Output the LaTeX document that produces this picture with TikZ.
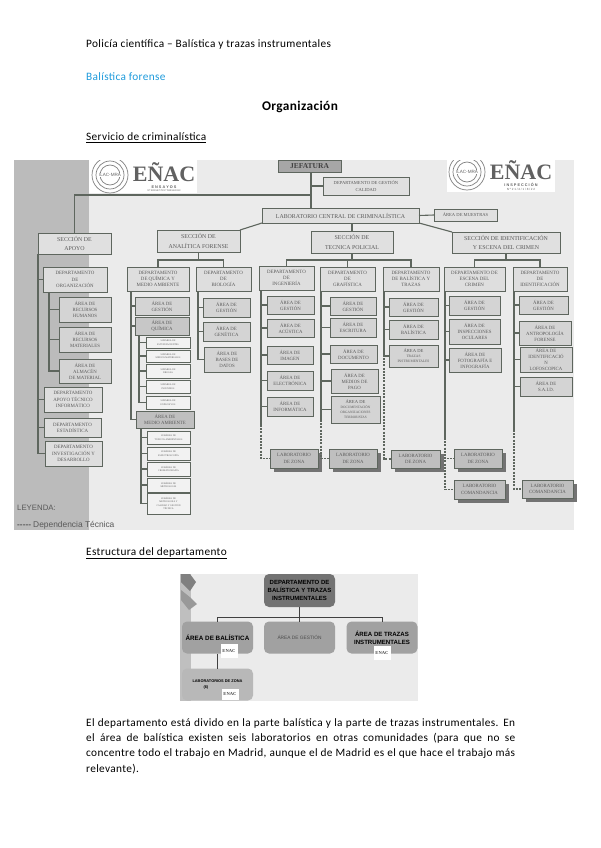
\documentclass[tikz,border=0pt]{standalone}
\usepackage{fontspec}
\setmainfont[LetterSpace=3]{Carlito}
\newfontfamily\orgfont{Liberation Serif}
\newfontfamily\legfont{Liberation Sans}
\usetikzlibrary{positioning, shadows}
\definecolor{orgline}{HTML}{5E665E}
\definecolor{orgtext}{HTML}{5A5A5A}
\definecolor{sheet}{HTML}{EBEBEB}
\definecolor{panel}{HTML}{BBBBBB}
\definecolor{bluehead}{HTML}{1E9BDC}

\begin{document}
\begin{tikzpicture}[x=1pt, y=-1pt,
  wh/.style 2 args={minimum width=#1, minimum height=#2},
  orgbox/.style={rectangle, draw=orgline, line width=1pt, inner sep=0pt, outer sep=0pt, align=center, text=orgtext},
  secbox/.style={orgbox, fill=black!12, font=\orgfont\fontsize{5.9}{9.5}\selectfont},
  deptbox/.style={orgbox, fill=black!13, font=\orgfont\fontsize{4.9}{6.2}\selectfont},
  areabox/.style={orgbox, fill=black!17, font=\orgfont\fontsize{4.8}{6}\selectfont},
  subbox/.style={orgbox, fill=black!5, font=\orgfont\fontsize{2.4}{3.1}\selectfont},
  labbox/.style={orgbox, fill=black!25, font=\orgfont\fontsize{4.8}{6.2}\selectfont, drop shadow={shadow xshift=4pt, shadow yshift=-4pt, fill=black!55, opacity=1}},
  link/.style={draw=orgline, line width=1.1pt},
  deplink/.style={draw=orgline, line width=1.1pt, dash pattern=on 2pt off 1.2pt},
  pagetext/.style={inner sep=0pt, anchor=west, font=\fontsize{11.3}{13}\selectfont},
  stepbox/.style={rectangle, rounded corners=5pt, inner sep=0pt, outer sep=0pt, align=center, wh={71}{32}},
  busline/.style={draw=black!75, line width=.9pt},
  logobig/.style={inner sep=0pt, text=black!62, font=\orgfont\bfseries\fontsize{22}{22}\selectfont},
  logosmall/.style={inner sep=0pt, text=black!62, font=\legfont\fontsize{4.2}{5}\selectfont},
  minilogo/.style={fill=white, inner sep=0pt, font=\orgfont\bfseries\fontsize{4.6}{5}\selectfont, text=black!70, wh={17}{14}}]
\useasboundingbox (0,0) rectangle (600,848);
\fill[white] (0,0) rectangle (600,848);

\node[pagetext] (titulo) at (86,44) {Policía científica – Balística y trazas instrumentales};
\node[pagetext, text=bluehead] (balistica) at (86,77) {Balística forense};
\node[pagetext, anchor=center, font=\bfseries\fontsize{13.3}{15}\selectfont] (organizacion) at (300,107) {Organización};
\node[pagetext] (servicio) at (86,138) {\underline{Servicio de criminalística}};
\node[pagetext] (estructura) at (86,553) {\underline{Estructura del departamento}};

\fill[sheet] (14,160) rectangle (574,530);
\fill[panel] (14,160) rectangle (89,530);
\begin{scope}
\clip (14,160) rectangle (574,530);
\fill[white] (89,160) rectangle (197,193);
\fill[white] (447,160) rectangle (555,192);
\foreach \r in {18,14,10} {
  \draw[black!50, line width=.7pt] (110,175) circle[radius=\r];
  \draw[black!50, line width=.7pt] (467,172) circle[radius=\r];
}
\node[fill=white, inner sep=.6pt, text=black!60, font=\legfont\fontsize{4.6}{5}\selectfont] (ilacizq) at (110,175) {ILAC-MRA};
\node[fill=white, inner sep=.6pt, text=black!60, font=\legfont\fontsize{4.6}{5}\selectfont] (ilacder) at (467,172) {ILAC-MRA};
\end{scope}
\node[logobig] (enacizq) at (164,172) {EÑAC};
\node[logosmall, font=\legfont\bfseries\fontsize{3.8}{4}\selectfont] (ensayos) at (164,187) {E N S A Y O S};
\node[logosmall, font=\legfont\fontsize{2.5}{3}\selectfont] (ensayosnum) at (164,191) {Nº 583/LE778  Nº 583/LE1193};
\node[logobig] (enacder) at (521,170) {EÑAC};
\node[logosmall, font=\legfont\bfseries\fontsize{3.8}{4}\selectfont] (inspeccion) at (521,185) {I N S P E C C I Ó N};
\node[logosmall, font=\legfont\fontsize{3}{3}\selectfont] (inspnum) at (521,189.5) {N º 2 1 / 4 / 1 / 8 / 2 2};

\node[secbox, wh={63}{12}, fill=black!35, font=\orgfont\bfseries\fontsize{7.5}{8}\selectfont, text=black!75] (jefatura) at (309.5,166) {JEFATURA};
\node[secbox, wh={86}{18}, font=\orgfont\fontsize{4.6}{6.2}\selectfont] (calidad) at (366,186) {DEPARTAMENTO DE GESTIÓN\\CALIDAD};
\node[secbox, wh={157}{15}] (labcentral) at (340.5,215.5) {LABORATORIO CENTRAL DE CRIMINALÍSTICA};
\node[secbox, wh={63}{12}, font=\orgfont\fontsize{4.6}{6}\selectfont] (muestras) at (465.5,215) {ÁREA DE MUESTRAS};
\node[secbox, wh={73}{21}] (apoyo) at (74.5,243.5) {SECCIÓN DE\\APOYO};
\node[secbox, wh={83}{22}] (analitica) at (198.5,241) {SECCIÓN DE\\ANALÍTICA FORENSE};
\node[secbox, wh={82}{22}] (tecnica) at (352,242) {SECCIÓN DE\\TECNICA POLICIAL};
\node[secbox, wh={108}{21}] (identcrimen) at (506,242.5) {SECCIÓN DE IDENTIFICACIÓN\\Y ESCENA DEL CRIMEN};

\node[deptbox, wh={64}{25}] (deptorg) at (75,279.5) {DEPARTAMENTO\\DE\\ORGANIZACIÓN};
\node[deptbox, wh={62}{24}] (deptquimica) at (158,279) {DEPARTAMENTO\\DE QUÍMICA Y\\MEDIO AMBIENTE};
\node[deptbox, wh={55}{24}] (deptbiologia) at (223.5,279) {DEPARTAMENTO\\DE\\BIOLOGÍA};
\node[deptbox, wh={55}{24}] (deptingenieria) at (286.5,278) {DEPARTAMENTO\\DE\\INGENIERÍA};
\node[deptbox, wh={55}{24}] (deptgrafistica) at (347.5,279) {DEPARTAMENTO\\DE\\GRAFÍSTICA};
\node[deptbox, wh={56}{24}] (deptbalistica) at (411,279) {DEPARTAMENTO\\DE BALÍSTICA Y\\TRAZAS};
\node[deptbox, wh={61}{24}] (deptescena) at (474.5,279) {DEPARTAMENTO DE\\ESCENA DEL\\CRIMEN};
\node[deptbox, wh={54}{24}] (deptident) at (540,279) {DEPARTAMENTO\\DE\\IDENTIFICACIÓN};

\node[areabox, wh={52}{25}] (arearh) at (85,309.5) {ÁREA DE\\RECURSOS\\HUMANOS};
\node[areabox, wh={52}{25}] (arearm) at (85,339.5) {ÁREA DE\\RECURSOS\\MATERIALES};
\node[areabox, wh={52}{24}] (areaalmacen) at (85,371) {ÁREA DE\\ALMACÉN\\DE MATERIAL};
\node[deptbox, wh={58}{25}] (deptapoyo) at (73,399.5) {DEPARTAMENTO\\APOYO TÉCNICO\\INFORMÁTICO};
\node[deptbox, wh={57}{19}] (deptestad) at (72.5,427.5) {DEPARTAMENTO\\ESTADÍSTICA};
\node[deptbox, wh={57}{25}] (deptinvest) at (73.5,453.5) {DEPARTAMENTO\\INVESTIGACIÓN Y\\DESARROLLO};

\node[areabox, wh={54}{18}] (qgestion) at (162,306) {ÁREA DE\\GESTIÓN};
\node[areabox, wh={54}{18}, fill=black!22] (qquimica) at (162,326) {ÁREA DE\\QUÍMICA};
\node[subbox, wh={44}{11}] (sube) at (168,342.5) {SUBÁREA DE\\ESTUPEFACIENTES};
\node[subbox, wh={44}{12}] (subm) at (168,356) {SUBÁREA DE\\MEDIOS MATERIALES};
\node[subbox, wh={44}{14}] (subd) at (168,371) {SUBÁREA DE\\DROGAS};
\node[subbox, wh={44}{13}] (subi) at (168,386.5) {SUBÁREA DE\\INCENDIOS};
\node[subbox, wh={44}{13}] (subx) at (168,402.5) {SUBÁREA DE\\EXPLOSIVOS};
\node[areabox, wh={58}{17}, fill=black!25] (qambiente) at (165,419.5) {ÁREA DE\\MEDIO AMBIENTE};
\node[subbox, wh={43}{13}] (subt) at (168.5,437.5) {SUBÁREA DE\\TÓXICOS AMBIENTALES};
\node[subbox, wh={43}{13}] (subs) at (168.5,453.5) {SUBÁREA DE\\ESPECTROSCOPÍA};
\node[subbox, wh={43}{14}] (subc) at (168.5,469) {SUBÁREA DE\\CROMATOGRAFÍA};
\node[subbox, wh={43}{14}] (subr) at (168.5,485) {SUBÁREA DE\\METROLOGÍA};
\node[subbox, wh={43}{21}] (subg) at (168.5,503.5) {SUBÁREA DE\\METROLOGÍA Y\\CALIDAD Y GESTIÓN\\TÉCNICA};

\node[areabox, wh={47}{19}] (bgestion) at (226.5,307.5) {ÁREA DE\\GESTIÓN};
\node[areabox, wh={47}{19}] (bgenetica) at (226.5,331.5) {ÁREA DE\\GENÉTICA};
\node[areabox, wh={46}{25}] (bdatos) at (227,359.5) {ÁREA DE\\BASES DE\\DATOS};

\node[areabox, wh={47}{18}] (igestion) at (290.5,305) {ÁREA DE\\GESTIÓN};
\node[areabox, wh={47}{18}] (iacustica) at (290.5,328) {ÁREA DE\\ACÚSTICA};
\node[areabox, wh={46}{18}] (iimagen) at (290,355) {ÁREA DE\\IMAGEN};
\node[areabox, wh={46}{19}] (ielectronica) at (290,380.5) {ÁREA DE\\ELECTRÓNICA};
\node[areabox, wh={46}{19}] (iinformatica) at (290,406.5) {ÁREA DE\\INFORMÁTICA};
\node[labbox, wh={48}{19}] (izona) at (294,458.5) {LABORATORIO\\DE ZONA};

\node[areabox, wh={46}{18}] (ggestion) at (353,306) {ÁREA DE\\GESTIÓN};
\node[areabox, wh={46}{19}] (gescritura) at (353,327.5) {ÁREA DE\\ESCRITURA};
\node[areabox, wh={47}{18}] (gdocumento) at (353.5,354) {ÁREA DE\\DOCUMENTO};
\node[areabox, wh={47}{24}] (gpago) at (354.5,381) {ÁREA DE\\MEDIOS DE\\PAGO};
\node[areabox, wh={49}{27}, font=\orgfont\fontsize{3.4}{5}\selectfont] (gterror) at (355.5,409.5) {{\fontsize{4.6}{5}\selectfont ÁREA DE}\\DOCUMENTACIÓN\\ORGANIZACIONES\\TERRORISTAS};
\node[labbox, wh={48}{19}] (gzona) at (353,458.5) {LABORATORIO\\DE ZONA};

\node[areabox, wh={49}{18}] (tgestion) at (413.5,307) {ÁREA DE\\GESTIÓN};
\node[areabox, wh={49}{19}] (tbalistica) at (413.5,329.5) {ÁREA DE\\BALÍSTICA};
\node[areabox, wh={49}{22}, font=\orgfont\fontsize{3.6}{5}\selectfont] (ttrazas) at (413.5,356) {{\fontsize{4.6}{5}\selectfont ÁREA DE}\\TRAZAS\\INSTRUMENTALES};
\node[labbox, wh={49}{18}] (tzona) at (415.5,459) {LABORATORIO\\DE ZONA};

\node[areabox, wh={51}{19}] (egestion) at (474.5,305.5) {ÁREA DE\\GESTIÓN};
\node[areabox, wh={51}{25}] (eoculares) at (474.5,331.5) {ÁREA DE\\INSPECCIONES\\OCULARES};
\node[areabox, wh={52}{24}] (efoto) at (475,360) {ÁREA DE\\FOTOGRAFÍA E\\INFOGRAFÍA};
\node[labbox, wh={48}{19}] (ezona) at (478,458.5) {LABORATORIO\\DE ZONA};
\node[labbox, wh={51}{19}] (ecomand) at (479.5,489.5) {LABORATORIO\\COMANDANCIA};

\node[areabox, wh={49}{18}] (dgestion) at (543.5,305) {ÁREA DE\\GESTIÓN};
\node[areabox, wh={52}{24}] (dantropo) at (545,333) {ÁREA DE\\ANTROPOLOGÍA\\FORENSE};
\node[areabox, wh={52}{25}, anchor=center] (dlofos) at (546,359.5) {ÁREA DE\\IDENTIFICACIÓ\\N\\LOFOSCOPICA};
\node[areabox, wh={52}{19}] (dsaid) at (546,386.5) {ÁREA DE\\S.A.I.D.};
\node[labbox, wh={51}{18}] (dcomand) at (547.5,489) {LABORATORIO\\COMANDANCIA};

\node[inner sep=0pt, anchor=west, text=black!65, font=\legfont\fontsize{7.8}{9}\selectfont] (leyenda) at (17,508) {LEYENDA:};
\node[inner sep=0pt, anchor=west, text=black!65, font=\legfont\fontsize{8.4}{9}\selectfont] (dependencia) at (17,525) {\textbf{-----}\kern2pt Dependencia Técnica};

\coordinate (cjefe) at (311,195);
\coordinate (railapoyo) at (38,451);
\coordinate (railorg) at (49,371);
\coordinate (railquim) at (131,422);
\coordinate (railsubq) at (139,402);
\coordinate (railsubm) at (141,499);
\coordinate (railbio) at (198,356);
\coordinate (railing) at (261,425);
\coordinate (railgraf) at (321,420);
\coordinate (railbal) at (384,358);
\coordinate (railesc) at (445,438);
\coordinate (railide) at (514,430);

\draw[link] (cjefe |- jefatura.south) -- (cjefe |- labcentral.north);
\draw[link] (cjefe |- calidad.west) -- (calidad.west);
\draw[link] (cjefe) -| (apoyo.north);
\draw[link] (labcentral.east) -- (muestras.west);
\draw[link] (labcentral.south west) -- (analitica.north east);
\draw[link] (labcentral.south east) -- (identcrimen.north west);
\draw[link] (tecnica.north |- labcentral.south) -- (tecnica.north);
\foreach \d in {deptquimica, deptbiologia} \draw[link] (analitica.south) -- ++(0,8) -| (\d.north);
\foreach \d in {deptingenieria, deptgrafistica, deptbalistica} \draw[link] (tecnica.south) -- ++(0,7) -| (\d.north);
\foreach \d in {deptescena, deptident} \draw[link] (identcrimen.south) -- ++(0,7) -| (\d.north);

\foreach \t in {deptorg, deptapoyo, deptestad, deptinvest} \draw[link] (railapoyo |- apoyo.south) |- (\t.west);
\foreach \t in {arearh, arearm, areaalmacen} \draw[link] (railorg |- deptorg.south) |- (\t.west);
\foreach \t in {qgestion, qquimica, qambiente} \draw[link] (railquim |- deptquimica.south) |- (\t.west);
\foreach \t in {sube, subm, subd, subi, subx} \draw[link] (railsubq |- qquimica.south) |- (\t.west);
\foreach \t in {subt, subs, subc, subr, subg} \draw[link] (railsubm |- qambiente.south) |- (\t.west);
\foreach \t in {bgestion, bgenetica, bdatos} \draw[link] (railbio |- deptbiologia.south) |- (\t.west);
\foreach \t in {igestion, iacustica, iimagen, ielectronica, iinformatica} \draw[link] (railing |- deptingenieria.south) |- (\t.west);
\foreach \t in {ggestion, gescritura, gdocumento, gpago, gterror} \draw[link] (railgraf |- deptgrafistica.south) |- (\t.west);
\foreach \t in {tgestion, tbalistica, ttrazas} \draw[link] (railbal |- deptbalistica.south) |- (\t.west);
\foreach \t in {egestion, eoculares, efoto} \draw[link] (railesc |- deptescena.south) |- (\t.west);
\foreach \t in {dgestion, dantropo, dlofos, dsaid} \draw[link] (railide |- deptident.south) |- (\t.west);

\draw[link] (railing |- deptingenieria.south) -- (railing);
\draw[link] (railgraf |- deptgrafistica.south) -- (railgraf);
\draw[link] (railesc |- deptescena.south) -- (railesc);
\draw[link] (railide |- deptident.south) -- (railide);
\draw[deplink] (railing) |- (izona.west);
\draw[deplink] (railgraf) |- (gzona.west);
\draw[deplink] (railbal) |- (tzona.west);
\draw[deplink] (railesc) |- (ezona.west);
\draw[deplink] (railesc) |- (ecomand.west);
\draw[deplink] (railide) |- (dcomand.west);

\fill[sheet] (180,574) rectangle (418,701);
\fill[black!25] (180,574) rectangle (191,701);
\fill[black!50] (181,574) -- (190,574) -- (196,582) -- (190,591) -- (181,582) -- cycle;
\fill[black!40] (181,590) -- (191,598) -- (197,604) -- (189,610) -- (181,600) -- cycle;

\node[stepbox, wh={71}{33}, fill=black!55, font=\legfont\bfseries\fontsize{6}{8}\selectfont] (dptbt) at (299.5,590.5) {DEPARTAMENTO DE\\BALÍSTICA Y TRAZAS\\INSTRUMENTALES};
\node[stepbox, fill=black!37, font=\legfont\bfseries\fontsize{6.3}{8}\selectfont] (areabal) at (217.5,637.5) {ÁREA DE BALÍSTICA};
\node[stepbox, fill=black!37, text=black!70, font=\legfont\fontsize{4.8}{6}\selectfont] (areages) at (299.5,637.5) {ÁREA DE GESTIÓN};
\node[stepbox, fill=black!37, font=\legfont\bfseries\fontsize{6.1}{8}\selectfont] (areatra) at (382,637.5) {ÁREA DE TRAZAS\\INSTRUMENTALES};
\node[stepbox, fill=black!28, font=\legfont\bfseries\fontsize{3.9}{6}\selectfont] (labzonas) at (217.5,684.5) {\raisebox{3pt}{\parbox{60pt}{\centering LABORATORIOS DE ZONA\\\raggedright\hspace*{16pt}(6)}}};
\node[minilogo] (logobal) at (229,651) {\raisebox{-2pt}{ENAC}};
\node[minilogo] (logotra) at (382,652.5) {\raisebox{-2pt}{ENAC}};
\node[minilogo, minimum height=11pt] (logolab) at (230,694) {ENAC};

\draw[busline] (dptbt.south) -- (areages.north);
\draw[busline] (areabal.north) -- ++(0,-4) -| (areatra.north);
\draw[busline] (areabal.south) -- (labzonas.north);

\node[inner sep=0pt, anchor=north west, text width=429pt, align=justify, font=\fontsize{11.3}{15.2}\selectfont] (parrafo) at (86,718.5) {El departamento está divido en la parte balística y la parte de trazas instrumentales. En\linebreak el área de balística existen seis laboratorios en otras comunidades (para que no se\linebreak concentre todo el trabajo en Madrid, aunque el de Madrid es el que hace el trabajo más\linebreak relevante).};
\end{tikzpicture}
\end{document}
